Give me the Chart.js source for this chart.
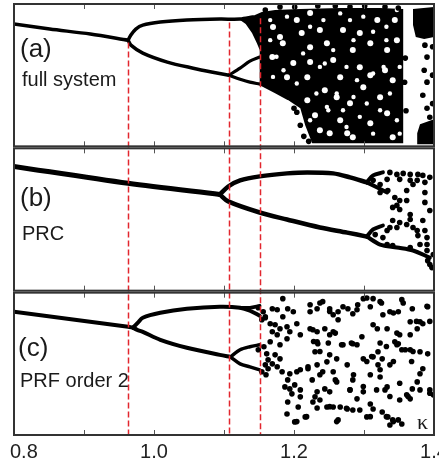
<!DOCTYPE html>
<html>
<head>
<meta charset="utf-8">
<script src="https://cdn.jsdelivr.net/npm/chart.js@4.4.1/dist/chart.umd.min.js"></script>
<style>
  html, body { margin: 0; padding: 0; background: #fff; }
  #wrap { width: 439px; height: 460px; }
</style>
</head>
<body>
<div id="wrap"><canvas id="bif" width="439" height="460"></canvas></div>
<script>
// ----- Data: [kappa, state] pairs, state normalised per panel (0 = bottom, 1 = top) -----

const xTicks = [0.8, 0.9, 1.0, 1.1, 1.2, 1.3, 1.4];
const xLabels = [0.8, 1.0, 1.2, 1.4];

// red dashed bifurcation markers and where they start in panel (a)
const dashKappa = [0.963, 1.107, 1.151];
const dashStartA = [0.73, 0.87, 0.90];

// (a) full system
const aMain = [[0.800, 0.859], [0.851, 0.824], [0.909, 0.789], [0.963, 0.746]];
const aUpper = [[0.963, 0.746], [0.967, 0.782], [0.974, 0.824], [0.984, 0.852], [1.009, 0.873],
  [1.047, 0.887], [1.094, 0.894], [1.123, 0.894], [1.141, 0.908]];
const aLower = [[0.963, 0.746], [0.967, 0.711], [0.984, 0.655], [1.019, 0.592], [1.056, 0.549],
  [1.084, 0.521], [1.107, 0.500]];
const aLowerUp = [[1.107, 0.500], [1.123, 0.549], [1.137, 0.599], [1.151, 0.627]];
const aLowerDown = [[1.107, 0.500], [1.123, 0.472], [1.137, 0.451], [1.151, 0.437]];
const aBand = [[1.123, 0.894], [1.141, 0.915], [1.154, 0.944], [1.173, 0.958], [1.209, 0.965],
  [1.266, 0.972], [1.323, 0.972], [1.356, 0.965], [1.356, 0.021], [1.226, 0.021], [1.216, 0.148],
  [1.209, 0.268], [1.194, 0.317], [1.173, 0.373], [1.151, 0.430], [1.151, 0.620], [1.151, 0.676],
  [1.147, 0.725], [1.140, 0.796], [1.131, 0.859], [1.123, 0.887]];
const aTopRight = [[1.370, 0.965], [1.400, 0.979], [1.400, 0.768], [1.386, 0.754], [1.374, 0.768], [1.370, 0.852]];
const aBottomRight = [[1.380, 0.155], [1.400, 0.190], [1.400, 0.014], [1.377, 0.014], [1.376, 0.092]];
// larger white gaps inside the chaotic band
const aHoles = [[1.247, 0.725], [1.256, 0.606], [1.266, 0.486], [1.284, 0.676], [1.294, 0.796],
  [1.309, 0.725], [1.319, 0.887], [1.299, 0.415], [1.280, 0.303], [1.266, 0.183], [1.323, 0.345],
  [1.333, 0.232], [1.309, 0.162], [1.341, 0.465], [1.251, 0.092], [1.284, 0.063], [1.341, 0.063],
  [1.294, 0.556], [1.270, 0.817], [1.333, 0.676], [1.347, 0.746], [1.223, 0.697], [1.211, 0.796],
  [1.237, 0.817], [1.199, 0.585], [1.219, 0.486], [1.190, 0.486], [1.261, 0.345], [1.184, 0.725],
  [1.170, 0.838], [1.204, 0.887], [1.237, 0.113], [1.190, 0.303], [1.219, 0.324], [1.276, 0.092],
  [1.180, 0.768], [1.223, 0.937], [1.223, 0.592], [1.169, 0.627], [1.230, 0.218], [1.244, 0.394],
  [1.344, 0.887], [1.309, 0.500], [1.330, 0.535]];
// smaller white specks
const aSpecks = [[1.242, 0.887], [1.266, 0.934], [1.280, 0.887], [1.299, 0.911], [1.313, 0.805],
  [1.332, 0.840], [1.347, 0.958], [1.244, 0.582], [1.275, 0.558], [1.290, 0.465], [1.313, 0.512],
  [1.328, 0.558], [1.261, 0.371], [1.285, 0.347], [1.304, 0.301], [1.337, 0.371], [1.351, 0.558],
  [1.249, 0.254], [1.270, 0.254], [1.294, 0.207], [1.323, 0.254], [1.347, 0.183], [1.275, 0.136],
  [1.313, 0.089], [1.351, 0.089], [1.332, 0.746], [1.285, 0.746], [1.256, 0.676], [1.166, 0.746],
  [1.175, 0.629], [1.185, 0.535], [1.204, 0.441], [1.213, 0.653], [1.223, 0.840], [1.190, 0.911],
  [1.166, 0.887], [1.237, 0.558], [1.232, 0.371], [1.247, 0.277], [1.223, 0.183], [1.170, 0.488]];
const aDots = [[1.159, 0.958], [1.180, 0.979], [1.201, 0.979], [1.234, 0.986], [1.259, 0.986],
  [1.280, 0.979], [1.301, 0.986], [1.330, 0.979], [1.349, 0.972],
  [1.200, 0.268], [1.204, 0.239], [1.209, 0.148], [1.214, 0.070], [1.221, 0.035],
  [1.387, 0.711], [1.390, 0.627], [1.386, 0.535], [1.390, 0.451], [1.384, 0.359], [1.390, 0.268],
  [1.394, 0.204], [1.398, 0.700], [1.398, 0.500], [1.398, 0.300],
  [1.359, 0.620], [1.358, 0.450], [1.360, 0.250]];

// (b) PRC
const bMain = [[0.800, 0.873], [0.963, 0.754], [1.094, 0.676]];
const bUpper = [[1.094, 0.676], [1.106, 0.732], [1.123, 0.775], [1.151, 0.803], [1.190, 0.824],
  [1.219, 0.831], [1.256, 0.824], [1.280, 0.796], [1.304, 0.761]];
const bUpperUp = [[1.304, 0.761], [1.313, 0.810], [1.327, 0.831]];
const bUpperDown = [[1.304, 0.761], [1.319, 0.725], [1.333, 0.690]];
const bLower = [[1.094, 0.676], [1.106, 0.627], [1.151, 0.549], [1.190, 0.500], [1.237, 0.444],
  [1.276, 0.408], [1.304, 0.380]];
const bLowerUp = [[1.304, 0.380], [1.313, 0.430], [1.327, 0.458]];
const bLowerDown = [[1.304, 0.380], [1.323, 0.324], [1.347, 0.303], [1.370, 0.282], [1.394, 0.232]];
const bDots = [[1.337, 0.831], [1.347, 0.817], [1.356, 0.824], [1.366, 0.817], [1.377, 0.817],
  [1.384, 0.810], [1.387, 0.761], [1.376, 0.775], [1.366, 0.775], [1.351, 0.782], [1.333, 0.782],
  [1.323, 0.690], [1.334, 0.704], [1.344, 0.655], [1.351, 0.634], [1.347, 0.599], [1.341, 0.585],
  [1.351, 0.570], [1.361, 0.634], [1.361, 0.704], [1.370, 0.746], [1.387, 0.690], [1.387, 0.620],
  [1.394, 0.563], [1.366, 0.535], [1.341, 0.493], [1.351, 0.479], [1.361, 0.465], [1.366, 0.500],
  [1.370, 0.444], [1.376, 0.423], [1.377, 0.387], [1.384, 0.493], [1.387, 0.423], [1.390, 0.373],
  [1.333, 0.423], [1.337, 0.444], [1.347, 0.444], [1.366, 0.303], [1.380, 0.324], [1.390, 0.324],
  [1.390, 0.282], [1.391, 0.211], [1.394, 0.183], [1.399, 0.254], [1.397, 0.162], [1.394, 0.796],
  [1.313, 0.775], [1.323, 0.746], [1.316, 0.394], [1.327, 0.373], [1.333, 0.324], [1.341, 0.317]];

// (c) PRF order 2
const cMain = [[0.800, 0.866], [0.963, 0.761], [0.970, 0.754]];
const cUpper = [[0.970, 0.754], [0.977, 0.789], [0.984, 0.824], [1.009, 0.859], [1.047, 0.887],
  [1.094, 0.901], [1.123, 0.894], [1.137, 0.873], [1.151, 0.838]];
const cUpperUp = [[1.123, 0.894], [1.137, 0.894], [1.151, 0.908]];
const cLower = [[0.970, 0.754], [0.976, 0.739], [0.984, 0.725], [1.009, 0.669], [1.047, 0.613],
  [1.094, 0.563], [1.109, 0.549]];
const cLowerUp = [[1.109, 0.549], [1.123, 0.599], [1.137, 0.620], [1.151, 0.634]];
const cLowerDown = [[1.109, 0.549], [1.123, 0.500], [1.137, 0.479], [1.151, 0.458]];
const cDots = [[1.149, 0.894], [1.156, 0.866], [1.159, 0.824], [1.154, 0.810], [1.149, 0.599],
  [1.157, 0.620], [1.154, 0.444], [1.160, 0.423], [1.159, 0.831], [1.159, 0.493], [1.163, 0.465],
  [1.184, 0.958], [1.169, 0.887], [1.176, 0.880], [1.191, 0.887], [1.199, 0.866], [1.184, 0.831],
  [1.166, 0.782], [1.173, 0.775], [1.180, 0.746], [1.190, 0.761], [1.194, 0.725], [1.169, 0.725],
  [1.176, 0.704], [1.166, 0.655], [1.180, 0.634], [1.190, 0.676], [1.204, 0.782], [1.209, 0.704],
  [1.223, 0.866], [1.233, 0.887], [1.223, 0.746], [1.233, 0.725], [1.234, 0.641], [1.161, 0.570],
  [1.173, 0.563], [1.180, 0.535], [1.163, 0.528], [1.169, 0.500], [1.176, 0.479], [1.183, 0.444],
  [1.194, 0.430], [1.204, 0.444], [1.209, 0.458], [1.220, 0.465], [1.233, 0.493], [1.191, 0.387],
  [1.187, 0.338], [1.194, 0.324], [1.201, 0.352], [1.209, 0.317], [1.197, 0.289], [1.209, 0.268],
  [1.206, 0.197], [1.191, 0.232], [1.190, 0.148], [1.201, 0.092], [1.216, 0.127], [1.227, 0.232],
  [1.233, 0.303],
  [1.227, 0.739], [1.233, 0.655], [1.230, 0.585], [1.220, 0.479], [1.226, 0.387], [1.230, 0.268],
  [1.233, 0.190], [1.237, 0.423],
  [1.241, 0.937], [1.251, 0.887], [1.256, 0.845], [1.263, 0.866], [1.270, 0.901], [1.277, 0.887],
  [1.284, 0.852], [1.291, 0.915], [1.299, 0.958], [1.313, 0.958], [1.309, 0.901], [1.323, 0.937],
  [1.327, 0.845], [1.337, 0.866], [1.349, 0.866], [1.354, 0.951], [1.369, 0.887], [1.366, 0.796],
  [1.380, 0.796], [1.384, 0.782], [1.391, 0.901], [1.376, 0.746], [1.366, 0.704], [1.351, 0.704],
  [1.344, 0.655], [1.349, 0.641], [1.333, 0.746], [1.313, 0.775], [1.319, 0.746], [1.297, 0.690],
  [1.284, 0.641], [1.270, 0.634], [1.251, 0.704], [1.244, 0.746], [1.256, 0.725], [1.261, 0.535],
  [1.251, 0.563], [1.247, 0.514], [1.241, 0.444], [1.256, 0.444], [1.261, 0.373], [1.244, 0.324],
  [1.251, 0.303], [1.276, 0.493], [1.284, 0.387], [1.299, 0.535], [1.313, 0.549], [1.320, 0.585],
  [1.326, 0.535], [1.320, 0.493], [1.337, 0.493], [1.347, 0.634], [1.354, 0.599], [1.366, 0.599],
  [1.380, 0.585], [1.391, 0.570], [1.380, 0.430], [1.376, 0.373], [1.369, 0.324], [1.384, 0.465],
  [1.394, 0.317], [1.399, 0.282], [1.333, 0.338], [1.330, 0.317], [1.323, 0.408], [1.309, 0.423],
  [1.309, 0.218], [1.313, 0.183], [1.326, 0.162], [1.334, 0.127], [1.341, 0.106], [1.337, 0.070],
  [1.349, 0.106], [1.354, 0.077], [1.299, 0.303], [1.290, 0.254], [1.280, 0.317], [1.276, 0.183],
  [1.266, 0.197], [1.256, 0.197], [1.247, 0.197], [1.284, 0.176], [1.263, 0.106], [1.304, 0.127],
  [1.351, 0.246], [1.366, 0.254], [1.361, 0.282],
  [1.223, 0.915], [1.237, 0.927], [1.251, 0.868], [1.263, 0.810], [1.290, 0.880], [1.304, 0.963],
  [1.325, 0.927], [1.342, 0.857], [1.356, 0.927], [1.375, 0.798], [1.390, 0.904], [1.394, 0.798],
  [1.228, 0.657], [1.237, 0.587], [1.249, 0.646], [1.259, 0.716], [1.268, 0.634], [1.282, 0.646],
  [1.290, 0.634], [1.311, 0.551], [1.323, 0.646], [1.332, 0.622], [1.347, 0.716], [1.359, 0.599],
  [1.368, 0.516], [1.370, 0.587], [1.342, 0.516], [1.323, 0.458], [1.304, 0.516], [1.285, 0.423],
  [1.259, 0.387], [1.280, 0.317], [1.299, 0.340], [1.318, 0.317], [1.337, 0.270], [1.351, 0.364],
  [1.363, 0.270], [1.380, 0.317], [1.394, 0.293], [1.237, 0.246], [1.251, 0.199], [1.275, 0.188],
  [1.294, 0.176], [1.309, 0.129], [1.332, 0.129], [1.342, 0.094], [1.261, 0.094], [1.204, 0.094],
  [1.218, 0.129]];

// panel text
const panelNames = ["(a)", "(b)", "(c)"];
const panelTitles = ["full system", "PRC", "PRF order 2"];

// ----- Layout helpers -----

const GAP = 0.014;              // gap between panels, in panel heights
const SPAN = 3 + 2 * GAP;
const panelAxes = ["ya", "yb", "yc"];
// baseline of the panel letter and of the title, in panel units
const labelPos = [
  { name: 0.625, title: 0.425, x: 20 },
  { name: 0.592, title: 0.359, x: 20 },
  { name: 0.556, title: 0.338, x: 18 },
];

const lineSet = (data, axis, width) => ({
  type: "line", data, yAxisID: axis, order: 0,
  borderColor: "#000", borderWidth: width, pointRadius: 0,
  fill: false, tension: 0.3, borderCapStyle: "round", borderJoinStyle: "round",
});
const dotSet = (data, axis, color, r, order) => ({
  type: "scatter", data, yAxisID: axis, order,
  pointRadius: r, pointBackgroundColor: color, pointBorderWidth: 0, showLine: false,
});
const shapeSet = (data, axis) => ({
  type: "line", data, yAxisID: axis, order: 3,
  borderWidth: 0, pointRadius: 0, fill: "shape", backgroundColor: "#000", tension: 0,
});

// ----- Frames, ticks, dashed markers and text -----

const panelDecor = {
  id: "panelDecor",
  afterDatasetsDraw(chart) {
    const { ctx, scales } = chart;
    const x = scales.x;

    // red dashed markers
    ctx.save();
    ctx.strokeStyle = "#e2262e";
    ctx.lineWidth = 1.5;
    ctx.setLineDash([6, 3]);
    dashKappa.forEach((k, i) => {
      const px = Math.round(x.getPixelForValue(k)) + 0.5;
      ctx.beginPath();
      ctx.moveTo(px, scales.ya.getPixelForValue(dashStartA[i]));
      ctx.lineTo(px, scales.yc.getPixelForValue(0));
      ctx.stroke();
    });
    ctx.restore();

    // frames and inward ticks
    ctx.save();
    panelAxes.forEach((id, p) => {
      const s = scales[id];
      const top = s.getPixelForValue(1);
      const bottom = s.getPixelForValue(0);

      ctx.strokeStyle = "#555";
      ctx.lineWidth = 1;
      xTicks.forEach(t => {
        const px = Math.round(x.getPixelForValue(t)) + 0.5;
        ctx.beginPath();
        ctx.moveTo(px, top); ctx.lineTo(px, top + 5);
        ctx.moveTo(px, bottom); ctx.lineTo(px, bottom - 5);
        ctx.stroke();
      });

      ctx.strokeStyle = "#333";
      ctx.lineWidth = 2;
      ctx.strokeRect(x.left, top, x.right - x.left, bottom - top);

      // panel letter and title
      ctx.fillStyle = "#1a1a1a";
      ctx.textAlign = "left";
      ctx.textBaseline = "alphabetic";
      ctx.font = "26px 'Liberation Sans', Arial, sans-serif";
      ctx.fillText(panelNames[p], labelPos[p].x, s.getPixelForValue(labelPos[p].name));
      ctx.font = "20px 'Liberation Sans', Arial, sans-serif";
      ctx.fillText(panelTitles[p], labelPos[p].x + 2, s.getPixelForValue(labelPos[p].title));
    });

    // kappa symbol inside the bottom panel
    ctx.font = "22px 'Liberation Serif', 'DejaVu Serif', serif";
    ctx.textAlign = "right";
    ctx.fillText("\u03BA", x.right - 6, scales.yc.getPixelForValue(0) - 6);

    // x tick labels under the bottom panel
    ctx.font = "20px 'Liberation Sans', Arial, sans-serif";
    ctx.fillStyle = "#222";
    ctx.textAlign = "center";
    const base = scales.yc.getPixelForValue(0) + 23;
    xLabels.forEach(v => {
      const txt = v.toFixed(1);
      const w = ctx.measureText(txt).width;
      const px = Math.max(x.getPixelForValue(v), 10 + w / 2);
      ctx.fillText(txt, px, base);
    });
    ctx.restore();
  },
};

// ----- Chart -----

document.addEventListener("DOMContentLoaded", () => {
  const ctx = document.getElementById("bif").getContext("2d");

  new Chart(ctx, {
    type: "scatter",
    data: {
      datasets: [
        // (a)
        shapeSet(aBand, "ya"), shapeSet(aTopRight, "ya"), shapeSet(aBottomRight, "ya"),
        dotSet(aHoles, "ya", "#fff", 3, 2),
        dotSet(aSpecks, "ya", "#fff", 2.2, 2),
        dotSet(aDots, "ya", "#000", 2.8, 1),
        lineSet(aMain, "ya", 3.5), lineSet(aUpper, "ya", 3.5), lineSet(aLower, "ya", 3.5),
        lineSet(aLowerUp, "ya", 3.2), lineSet(aLowerDown, "ya", 3.2),
        // (b)
        lineSet(bMain, "yb", 5), lineSet(bUpper, "yb", 4.5), lineSet(bLower, "yb", 4.5),
        lineSet(bUpperUp, "yb", 4), lineSet(bUpperDown, "yb", 4),
        lineSet(bLowerUp, "yb", 4), lineSet(bLowerDown, "yb", 4),
        dotSet(bDots, "yb", "#000", 2.8, 1),
        // (c)
        lineSet(cMain, "yc", 4), lineSet(cUpper, "yc", 4), lineSet(cLower, "yc", 4),
        lineSet(cUpperUp, "yc", 3.5), lineSet(cLowerUp, "yc", 3.5), lineSet(cLowerDown, "yc", 3.5),
        dotSet(cDots, "yc", "#000", 2.8, 1),
      ],
    },
    options: {
      responsive: false,
      animation: false,
      events: [],
      layout: { padding: { left: 14, right: 5, top: 4, bottom: 25 } },
      plugins: { legend: { display: false }, tooltip: { enabled: false } },
      scales: {
        x: { type: "linear", min: 0.8, max: 1.4, display: false },
        y: { display: false },
        ya: { type: "linear", min: 1 - SPAN, max: 1, display: false },
        yb: { type: "linear", min: -(1 + GAP), max: 2 + GAP, display: false },
        yc: { type: "linear", min: 0, max: SPAN, display: false },
      },
    },
    plugins: [panelDecor],
  });
});
</script>
</body>
</html>
